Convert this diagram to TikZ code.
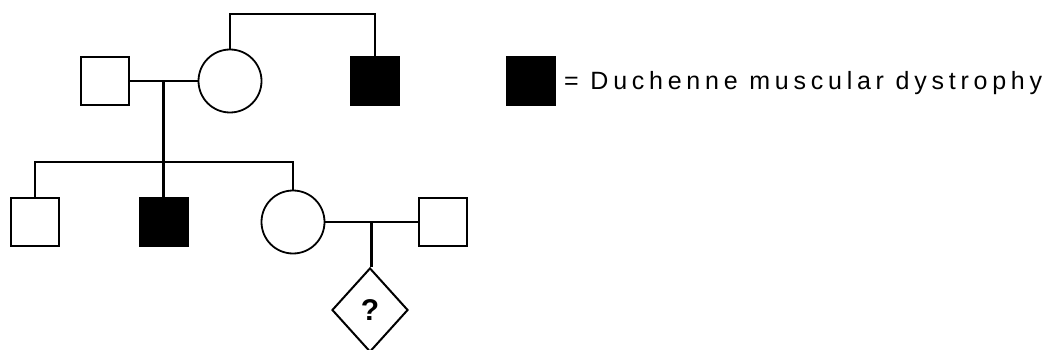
\documentclass[tikz,border=0pt]{standalone}
\usepackage{fontspec}
\setmainfont{Liberation Sans}
\newfontfamily\keyfont[LetterSpace=19]{Liberation Sans}
\usetikzlibrary{shapes.geometric}

\begin{document}
\begin{tikzpicture}[x=1pt, y=-1pt, every node/.style={inner sep=0pt},
  male/.style={draw, line width=2pt, minimum size=48pt},
  female/.style={draw, circle, line width=1.8pt, minimum size=63pt},
  affected/.style={male, fill=black},
  unknown/.style={draw, diamond, line width=2pt, minimum width=76pt, minimum height=84pt,
    font=\fontsize{30}{30}\selectfont\bfseries},
  link/.style={line width=2.8pt}]
  \useasboundingbox (0,0) rectangle (1049,350);

  \node[male] (dad) at (105,81) {};
  \node[female] (mum) at (230,81) {};
  \node[affected] (uncle) at (375,81) {};
  \coordinate (top) at (300,14);
  \draw[link] (mum.north) |- (top) -| (uncle.north);
  \draw[link] (dad) -- (mum) coordinate[pos=.5] (mar1);

  \foreach \n/\x/\s in {c1/35/male, c2/164/affected, c3/293/female} {
    \node[\s] (\n) at (\x, 222) {};
  }
  \node[male] (husband) at (443,222) {};
  \coordinate (sib) at (0,162);
  \draw[link] (c1.north) |- (c3 |- sib) -- (c3.north);
  \draw[link] (mar1) -- (mar1 |- c2.north);
  \draw[link] (c3) -- (husband) coordinate[pos=.5] (mar2);
  \node[unknown] (kid) at (370,310) {?};
  \draw[link] (mar2) -- (mar2 |- kid.north);

  \node[affected] (key) at (531,81) {};
  \node[anchor=base west, font=\fontsize{25}{25}\keyfont] (keytext) at (564,90)
    {= Duchenne muscular dystrophy};
\end{tikzpicture}
\end{document}
